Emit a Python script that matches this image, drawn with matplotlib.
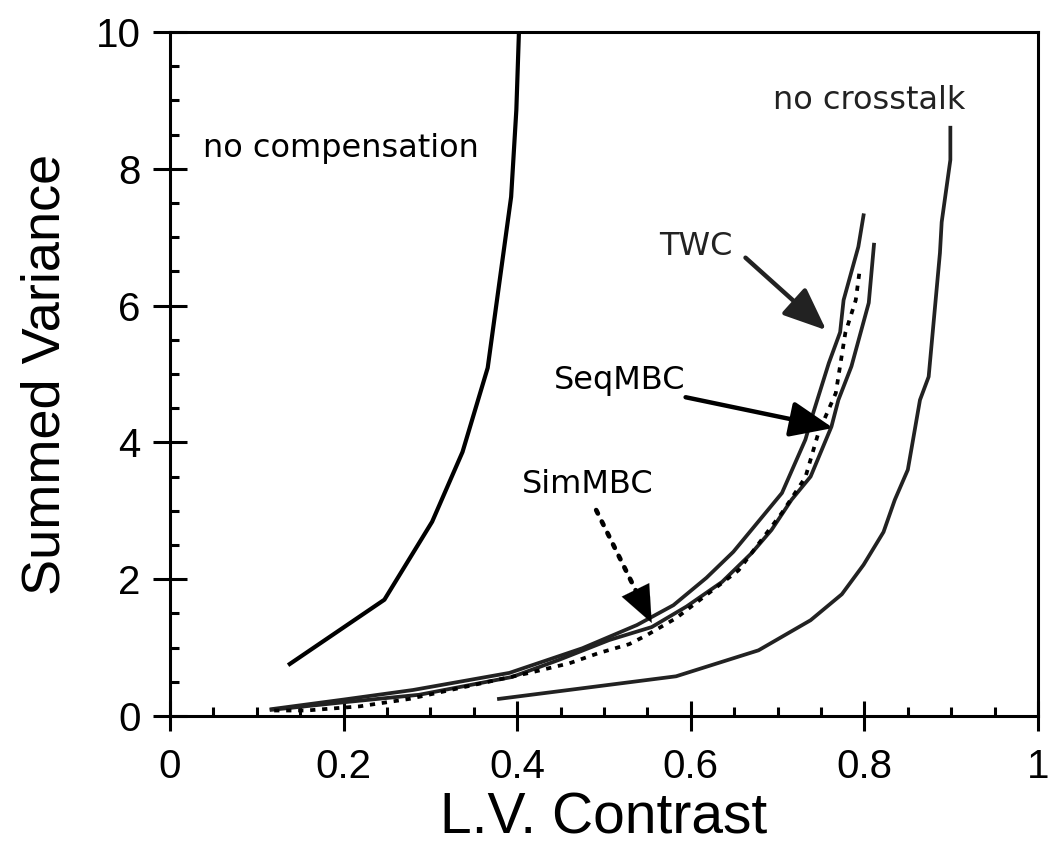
import matplotlib
matplotlib.use("Agg")
import matplotlib.pyplot as plt

plt.rcParams["font.family"] = ["Liberation Sans", "DejaVu Sans"]

# ── Data ─────────────────────────────────────────────────────────────────────
nocomp_x = [0.138, 0.247, 0.302, 0.337, 0.366, 0.393, 0.399, 0.402]
nocomp_y = [0.76, 1.70, 2.84, 3.86, 5.09, 7.59, 8.86, 10.0]

noxtalk_x = [0.379, 0.583, 0.678, 0.738, 0.774, 0.799, 0.822, 0.835, 0.850,
             0.864, 0.874, 0.887, 0.889, 0.899, 0.899]
noxtalk_y = [0.25, 0.58, 0.96, 1.40, 1.78, 2.21, 2.69, 3.16, 3.60,
             4.62, 4.96, 6.77, 7.22, 8.13, 8.60]

twc_x = [0.117, 0.200, 0.280, 0.391, 0.475, 0.538, 0.580, 0.618, 0.649,
         0.705, 0.732, 0.741, 0.759, 0.772, 0.776, 0.793, 0.799]
twc_y = [0.10, 0.24, 0.38, 0.63, 0.99, 1.33, 1.62, 2.02, 2.40,
         3.26, 4.04, 4.43, 5.16, 5.61, 6.08, 6.86, 7.32]

seq_x = [0.117, 0.200, 0.287, 0.394, 0.448, 0.506, 0.555, 0.595, 0.636,
         0.670, 0.693, 0.716, 0.738, 0.762, 0.770, 0.785, 0.805, 0.811]
seq_y = [0.09, 0.20, 0.31, 0.57, 0.82, 1.11, 1.30, 1.60, 1.96,
         2.38, 2.72, 3.16, 3.50, 4.23, 4.62, 5.11, 6.04, 6.89]

sim_x = [0.120, 0.157, 0.218, 0.276, 0.414, 0.460, 0.494, 0.529, 0.549,
         0.583, 0.655, 0.705, 0.732, 0.747, 0.767, 0.778, 0.790, 0.795]
sim_y = [0.08, 0.08, 0.14, 0.25, 0.63, 0.77, 0.92, 1.05, 1.18,
         1.43, 2.13, 2.97, 3.49, 4.14, 4.72, 5.60, 6.08, 6.56]

x_ticks = [0, 0.2, 0.4, 0.6, 0.8, 1.0]
x_ticklabels = ["0", "0.2", "0.4", "0.6", "0.8", "1"]
y_ticks = [0, 2, 4, 6, 8, 10]
y_ticklabels = ["0", "2", "4", "6", "8", "10"]
x_minor = [i * 0.05 for i in range(21)]
y_minor = [i * 0.5 for i in range(21)]

# annotation arrows: (start, tip)
twc_arrow = [(0.663, 6.70), (0.756, 5.64)]
seq_arrow = [(0.594, 4.66), (0.764, 4.21)]
sim_arrow = [(0.491, 3.01), (0.555, 1.36)]

INK = "#222222"

fig = plt.figure(figsize=(10.5, 8.55), dpi=100)
ax = fig.add_axes([0.1619, 0.1626, 0.9886 - 0.1619, 0.9626 - 0.1626])

ax.plot(nocomp_x, nocomp_y, color="black", lw=3.0)
ax.plot(noxtalk_x, noxtalk_y, color=INK, lw=2.7)
ax.plot(twc_x, twc_y, color=INK, lw=2.7)
ax.plot(seq_x, seq_y, color=INK, lw=2.7)
ax.plot(sim_x, sim_y, color="black", lw=2.7, dashes=(1.4, 1.8))

# labels
lab = dict(fontsize=23, family="DejaVu Sans", va="center", ha="left")
ax.text(0.038, 8.3, "no compensation", **lab)
ax.text(0.695, 9.0, "no crosstalk", color=INK, **lab)
ax.text(0.563, 6.86, "TWC", color=INK, **lab)
ax.text(0.4425, 4.91, "SeqMBC", **lab)
ax.text(0.405, 3.39, "SimMBC", **lab)

head = "-|>,head_length=1.2,head_width=0.5"
ax.annotate("", xy=twc_arrow[1], xytext=twc_arrow[0],
            arrowprops=dict(arrowstyle=head, color=INK, lw=3.2,
                            mutation_scale=22, shrinkA=0, shrinkB=0))
ax.annotate("", xy=seq_arrow[1], xytext=seq_arrow[0],
            arrowprops=dict(arrowstyle=head, color="black", lw=3.2,
                            mutation_scale=22, shrinkA=0, shrinkB=0))
# dotted shaft + solid head for SimMBC
(sx0, sy0), (sx1, sy1) = sim_arrow
ax.plot([sx0, sx0 + 0.85 * (sx1 - sx0)], [sy0, sy0 + 0.85 * (sy1 - sy0)],
        color="black", lw=3.4, dashes=(0.8, 1.9), dash_capstyle="round")
ax.annotate("", xy=(sx1, sy1),
            xytext=(sx0 + 0.8 * (sx1 - sx0), sy0 + 0.8 * (sy1 - sy0)),
            arrowprops=dict(arrowstyle=head, color="black", lw=0.1,
                            mutation_scale=22, shrinkA=0, shrinkB=0))

# axes
ax.set_xlim(0, 1)
ax.set_ylim(0, 10)
ax.set_xticks(x_ticks)
ax.set_xticklabels(x_ticklabels)
ax.set_yticks(y_ticks)
ax.set_yticklabels(y_ticklabels)
ax.set_xticks(x_minor, minor=True)
ax.set_yticks(y_minor, minor=True)

for s in ax.spines.values():
    s.set_linewidth(2.2)
    s.set_color("black")

ax.tick_params(which="major", axis="y", direction="inout", length=24.5,
               width=2.2, pad=9, labelsize=29)
ax.tick_params(which="major", axis="x", direction="inout", length=21.6,
               width=2.2, pad=12, labelsize=29)
ax.tick_params(which="minor", direction="in", length=6.5, width=2.2)
ax.tick_params(top=False, right=False, which="both")

ax.set_xlabel("L.V. Contrast", fontsize=41, labelpad=4)
ax.set_ylabel("Summed Variance", fontsize=39, labelpad=18)

fig.savefig("out.png", dpi=100)
